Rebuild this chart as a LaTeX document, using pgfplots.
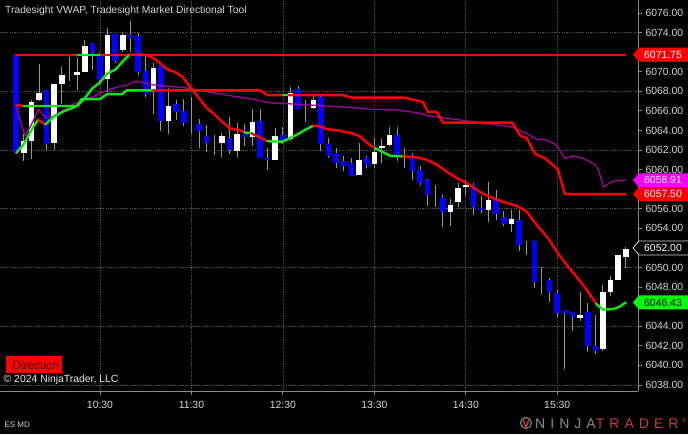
\documentclass[border=0pt]{standalone}
\usepackage{pgfplots}
\usepackage{pgfplotstable}
\pgfplotsset{compat=1.18}
\usepackage{fontspec}
\setmainfont{Liberation Sans}
\newfontfamily\logofont[LetterSpace=36]{Liberation Sans}

\definecolor{cblue}{RGB}{0,0,255}
\definecolor{wick}{RGB}{150,150,150}
\definecolor{lgreen}{RGB}{20,230,20}
\definecolor{tgreen}{RGB}{0,255,0}
\definecolor{cred}{RGB}{255,0,0}
\definecolor{vwap}{RGB}{160,0,160}
\definecolor{tmag}{RGB}{255,0,255}
\definecolor{gridc}{RGB}{85,85,85}
\definecolor{txt}{RGB}{215,215,215}
\definecolor{axc}{RGB}{140,140,140}
\definecolor{dirtxt}{RGB}{70,0,0}
\definecolor{ntred}{RGB}{205,60,45}

% i open high low close
\pgfplotstableread{
i o h l c
2 6061.75 6063.75 6061.0 6063.0
3 6063.0 6067.25 6061.25 6067.0
4 6067.25 6070.75 6067.0 6068.0
6 6062.75 6068.75 6062.0 6068.75
7 6068.75 6070.5 6066.75 6069.75
9 6069.75 6071.5 6068.25 6070.0
10 6070.0 6073.25 6070.0 6072.75
13 6069.25 6074.5 6068.0 6073.75
15 6072.25 6074.0 6072.0 6073.75
19 6068.25 6071.0 6065.75 6070.5
21 6065.0 6068.5 6063.75 6066.5
28 6062.75 6063.75 6061.25 6063.5
30 6062.0 6064.75 6061.25 6063.75
32 6063.5 6066.25 6062.5 6065.0
35 6061.0 6064.25 6061.0 6063.5
37 6063.25 6068.5 6063.0 6068.0
40 6066.5 6067.75 6066.25 6067.25
46 6059.5 6062.75 6059.5 6061.0
48 6060.75 6063.25 6060.25 6062.0
49 6062.25 6063.25 6060.75 6062.5
50 6062.5 6064.5 6062.5 6063.5
58 6055.75 6057.0 6054.25 6056.5
59 6056.75 6058.75 6056.25 6058.25
60 6058.25 6059.0 6057.5 6058.5
63 6056.0 6058.75 6054.75 6057.0
66 6054.5 6056.0 6053.75 6055.0
75 6045.0 6047.5 6044.5 6045.25
78 6041.75 6048.25 6041.5 6047.5
79 6047.5 6049.25 6047.25 6048.75
80 6048.75 6051.25 6048.75 6051.25
81 6051.25 6052.1 6050.0 6052.0
}\upc

\pgfplotstableread{
i o h l c
1 6071.75 6072.0 6061.75 6062.0
5 6068.25 6068.25 6062.0 6062.75
11 6073.0 6073.0 6070.25 6072.0
12 6071.75 6072.0 6068.75 6069.25
14 6074.0 6074.0 6071.0 6071.25
16 6073.75 6075.25 6072.0 6073.5
17 6073.75 6074.0 6069.75 6070.0
18 6070.0 6071.75 6067.5 6067.75
20 6070.75 6071.0 6064.0 6065.0
22 6066.75 6067.25 6065.25 6066.0
23 6066.0 6067.25 6064.5 6064.75
25 6064.75 6065.25 6062.25 6064.0
26 6063.5 6064.75 6062.0 6062.75
29 6063.25 6065.5 6061.75 6062.0
31 6063.75 6064.75 6062.5 6063.5
33 6065.0 6066.25 6061.25 6061.25
34 6061.25 6062.25 6060.0 6061.0
36 6063.75 6064.5 6062.75 6063.0
38 6068.25 6068.5 6066.25 6066.25
41 6067.5 6067.75 6062.0 6062.75
42 6062.75 6063.25 6061.25 6061.5
43 6061.75 6062.25 6060.25 6060.75
44 6061.0 6061.5 6060.0 6060.5
45 6060.75 6061.25 6059.5 6059.5
47 6061.25 6061.5 6060.25 6060.5
51 6063.5 6064.5 6061.0 6061.5
53 6061.5 6061.75 6059.0 6060.0
54 6060.0 6060.5 6058.5 6058.75
55 6059.0 6059.25 6056.5 6057.5
57 6057.25 6057.5 6054.25 6055.75
61 6058.5 6058.75 6055.5 6056.25
62 6056.25 6057.25 6055.5 6056.0
64 6057.0 6058.0 6055.0 6055.5
65 6055.25 6055.75 6054.25 6054.5
67 6055.0 6056.0 6051.75 6052.5
69 6052.75 6052.75 6048.0 6048.5
71 6048.75 6049.0 6046.5 6047.5
72 6047.5 6047.75 6045.0 6045.5
73 6045.75 6045.75 6039.75 6045.5
74 6045.5 6045.5 6043.5 6045.0
76 6045.5 6046.5 6041.5 6042.0
77 6042.0 6045.25 6041.25 6041.5
}\dnc

\pgfplotstableread{
i o h l c
8 6070.25 6071.5 6069.0 6070.25
24 6065.25 6067.5 6063.75 6065.25
27 6062.5 6063.5 6061.5 6062.5
39 6066.0 6067.25 6065.0 6066.0
52 6061.5 6062.25 6060.25 6061.5
56 6057.25 6058.5 6056.25 6057.25
68 6052.25 6052.75 6051.25 6052.25
70 6048.5 6050.25 6047.5 6048.5
}\dojc

\pgfplotsset{
  wicks/.style={draw=none, mark=none, forget plot,
    error bars/.cd, y dir=both, y explicit, error mark=none,
    error bar style={draw=wick, line width=1pt, solid}},
  bodies/.style={draw=none, mark=none, forget plot,
    error bars/.cd, y dir=both, y explicit, error mark=none,
    error bar style={draw=#1, line width=5.6pt, solid}},
  seg/.style={#1, line width=2.4pt, line join=round, line cap=round, forget plot},
}

\newcommand\pricetag[4]{%
  \fill[#2] ([xshift=-5pt]#1) -- ([xshift=1pt,yshift=7pt]#1) -- ([xshift=55pt,yshift=7pt]#1)
     -- ([xshift=55pt,yshift=-7pt]#1) -- ([xshift=1pt,yshift=-7pt]#1) -- cycle;
  \node[anchor=west, text=#3, font=\fontsize{10.4}{12}\selectfont, inner sep=0pt] at ([xshift=6pt]#1) {#4};
}

\begin{document}
\begin{tikzpicture}
\useasboundingbox (0,0) rectangle (688pt,434pt);
\fill[black] (0,0) rectangle (688pt,434pt);
\begin{axis}[
  at={(0pt,43pt)}, anchor=south west,
  scale only axis, width=638pt, height=391pt,
  xmin=-1.12, xmax=82.6, ymin=6037.387, ymax=6077.326,
  axis x line=bottom, axis y line=right,
  axis line style={-, draw=axc, line width=0.8pt},
  tick align=outside, major tick length=4pt,
  tick style={draw=axc, line width=0.8pt},
  xtick={12,24,36,48,60,72},
  xticklabels={10:30,11:30,12:30,13:30,14:30,15:30},
  ytick={6038,6040,6042,6044,6048,6050,6054,6056,6060,6062,6064,6066,6068,6070,6074,6076},
  /pgf/number format/assume math mode=true,
  ticklabel style={font=\fontsize{10.4}{12}\selectfont, text=txt},
  yticklabel style={/pgf/number format/.cd, fixed, fixed zerofill, precision=2, 1000 sep={}},
  xticklabel style={yshift=-3pt},
  xmajorgrids,
  grid style={draw=gridc, dash pattern=on 1.2pt off 1.2pt, line width=0.7pt},
  extra y ticks={6038,6044,6050,6056,6062,6068,6074},
  extra y tick labels={},
  extra y tick style={grid=major},
]
% candles: wicks first, bodies on top
\addplot[wicks] table[x=i, y expr={(\thisrow{h}+\thisrow{l})/2}, y error expr={(\thisrow{h}-\thisrow{l})/2}] {\upc};
\addplot[wicks] table[x=i, y expr={(\thisrow{h}+\thisrow{l})/2}, y error expr={(\thisrow{h}-\thisrow{l})/2}] {\dnc};
\addplot[wicks] table[x=i, y expr={(\thisrow{h}+\thisrow{l})/2}, y error expr={(\thisrow{h}-\thisrow{l})/2}] {\dojc};
\addplot[bodies=white] table[x=i, y expr={(\thisrow{o}+\thisrow{c})/2}, y error expr={abs(\thisrow{o}-\thisrow{c})/2}] {\upc};
\addplot[bodies=cblue] table[x=i, y expr={(\thisrow{o}+\thisrow{c})/2}, y error expr={abs(\thisrow{o}-\thisrow{c})/2}] {\dnc};

% horizontal level
\addplot[cred, line width=2pt, forget plot] coordinates {(0.85,6071.75)(81.0,6071.75)};
\addplot[lgreen, line width=2pt, forget plot] coordinates {(9.0,6071.75)(12.0,6071.75)};

% VWAP
\addplot[vwap, line width=1.3pt, line join=round, forget plot] coordinates {
(1.0,6066.6)(1.5,6065.1)(2.2,6063.4)(3.2,6064.9)(3.9,6066.2)(4.8,6065.3)(5.8,6065.4)(7.2,6066.1)(8.3,6066.6)(9.8,6067.1)(11.6,6067.6)(12.9,6068.1)(14.6,6068.5)(15.7,6068.65)(16.4,6069.0)(17.7,6068.9)(19.0,6068.65)(20.8,6068.5)(22.9,6068.4)(25.1,6068.1)(26.8,6067.85)(29.1,6067.55)(32.1,6067.2)(34.0,6066.85)(43.9,6066.4)(47.8,6066.15)(51.0,6066.1)(54.0,6065.75)(55.0,6065.5)(57.9,6065.2)(59.9,6065.0)(64.2,6064.55)(65.8,6064.4)(68.0,6063.7)(69.3,6063.1)(70.7,6063.0)(71.9,6062.5)(73.0,6061.15)(74.1,6061.4)(75.4,6061.15)(77.0,6060.5)(77.4,6060.0)(78.1,6058.2)(78.9,6058.65)(79.8,6058.9)(81.0,6058.91)};

% Directional tool, upper line
\addplot[seg=cred] coordinates {(1.0,6066.6)(2.0,6066.5)};
\addplot[seg=lgreen] coordinates {(2.0,6066.5)(9.0,6066.5)(9.6,6067.2)(12.0,6067.2)(12.9,6067.7)(14.9,6067.7)(15.5,6068.1)(19.0,6068.1)};
\addplot[seg=cred] coordinates {(19.0,6068.1)(33.0,6068.1)(34.0,6067.6)(36.0,6067.6)};
\addplot[seg=lgreen] coordinates {(36.0,6067.6)(36.8,6067.6)};
\addplot[seg=cred] coordinates {(36.8,6067.6)(43.9,6067.6)(45.1,6067.35)(52.0,6067.35)(54.4,6066.9)(55.0,6065.9)(56.2,6065.9)(57.0,6064.8)(66.1,6064.8)(67.1,6063.5)(68.0,6063.2)(69.1,6061.6)(70.4,6061.15)(71.7,6060.3)(72.1,6060.0)(73.0,6057.5)(81.0,6057.5)};

% Directional tool, lower line
\addplot[seg=lgreen] coordinates {(1.0,6061.7)(2,6062.6)(3.2,6064.3)(3.9,6065.1)};
\addplot[seg=cred] coordinates {(3.9,6065.1)(4.8,6064.6)};
\addplot[seg=lgreen] coordinates {(4.8,6064.6)(5.8,6065.3)(7.1,6065.9)(9.0,6066.5)(9.8,6067.1)(11.0,6068.3)(12.0,6068.9)(12.9,6069.8)(14.0,6070.2)(15.3,6071.3)(15.9,6071.75)};
\addplot[seg=cred] coordinates {(15.9,6071.75)(18.0,6071.75)(19.2,6071.3)(20.9,6070.2)(21.8,6070.0)(22.8,6069.5)(24.1,6068.2)(24.9,6067.4)(26.0,6066.3)(27.1,6065.6)(28.0,6064.9)(29.1,6064.2)(30.4,6064.0)(31.0,6063.8)};
\addplot[seg=lgreen] coordinates {(31.0,6063.8)(31.9,6063.7)};
\addplot[seg=cred] coordinates {(31.9,6063.7)(34.0,6062.9)};
\addplot[seg=lgreen] coordinates {(34.0,6062.9)(35.9,6062.85)(36.9,6063.2)(37.9,6063.6)(38.9,6064.05)(40.0,6064.5)};
\addplot[seg=cred] coordinates {(40.0,6064.5)(40.9,6064.4)(41.9,6064.1)(42.8,6064.05)(43.9,6063.9)(45.1,6063.7)(46.1,6063.4)(47.4,6062.5)(48.1,6062.2)};
\addplot[seg=lgreen] coordinates {(48.1,6062.2)(49.1,6061.8)(50.1,6061.4)(51.8,6061.35)};
\addplot[seg=cred] coordinates {(51.8,6061.35)(53.6,6061.25)(54.9,6061.0)(56.2,6060.5)(57.5,6059.8)(58.9,6059.1)(60.2,6058.6)(61.9,6057.7)(63.2,6057.2)(64.9,6056.7)(66.7,6056.3)(68.0,6055.7)(69.3,6054.35)(70.8,6053.0)(72.1,6051.45)(73.4,6050.1)(74.7,6048.9)(75.9,6047.7)(77.1,6046.3)};
\addplot[seg=lgreen] coordinates {(77.1,6046.3)(78.0,6045.7)(79.3,6045.75)(80.2,6046.0)(81.0,6046.43)};

\coordinate (T1) at (axis cs:82.6,6071.75);
\coordinate (T2) at (axis cs:82.6,6058.91);
\coordinate (T3) at (axis cs:82.6,6057.50);
\coordinate (T4) at (axis cs:82.6,6052.00);
\coordinate (T5) at (axis cs:82.6,6046.43);
\end{axis}

\pricetag{T1}{cred}{white}{6071.75}
\pricetag{T2}{tmag}{white}{6058.91}
\pricetag{T3}{cred}{white}{6057.50}
\draw[draw=white!85!black, fill=black, line width=0.8pt] ([xshift=-5pt]T4) -- ([xshift=1pt,yshift=7pt]T4) -- ([xshift=55pt,yshift=7pt]T4)
     -- ([xshift=55pt,yshift=-7pt]T4) -- ([xshift=1pt,yshift=-7pt]T4) -- cycle;
\node[anchor=west, text=white, font=\fontsize{10.4}{12}\selectfont, inner sep=0pt] at ([xshift=6pt]T4) {6052.00};
\pricetag{T5}{tgreen}{black}{6046.43}

% texts
\node[anchor=base west, inner sep=0pt, text=txt, font=\fontsize{10.3}{12}\selectfont] at (5pt,420pt) {Tradesight VWAP, Tradesight Market Directional Tool};
\fill[cred] (5.7pt,61pt) rectangle (61.7pt,78pt);
\node[anchor=base west, inner sep=0pt, text=dirtxt, font=\fontsize{11.8}{13}\selectfont] at (12.5pt,64.5pt) {Direction};
\node[anchor=base west, inner sep=0pt, text=white!92!black, font=\fontsize{10.4}{12}\selectfont] at (3.5pt,51.5pt) {\textcopyright{} 2024 NinjaTrader, LLC};
\node[anchor=base west, inner sep=0pt, text=txt, font=\fontsize{8}{10}\selectfont] at (4.4pt,7pt) {ES MD};
% logo
\draw[gray, line width=1.2pt] (526pt,11pt) circle (5.5pt);
\draw[ntred, line width=1.4pt] (523pt,14.5pt) -- (526pt,7pt) -- (529pt,14.5pt);
\node[anchor=base west, inner sep=0pt, font=\logofont\fontsize{14}{16}\selectfont] at (535pt,6pt) {\textcolor{gray!90!white}{NINJA}\textcolor{ntred}{TRADER}};
\node[anchor=base west, inner sep=0pt, text=ntred, font=\fontsize{6}{7}\selectfont] at (682pt,12pt) {\textregistered};
\end{tikzpicture}
\end{document}
